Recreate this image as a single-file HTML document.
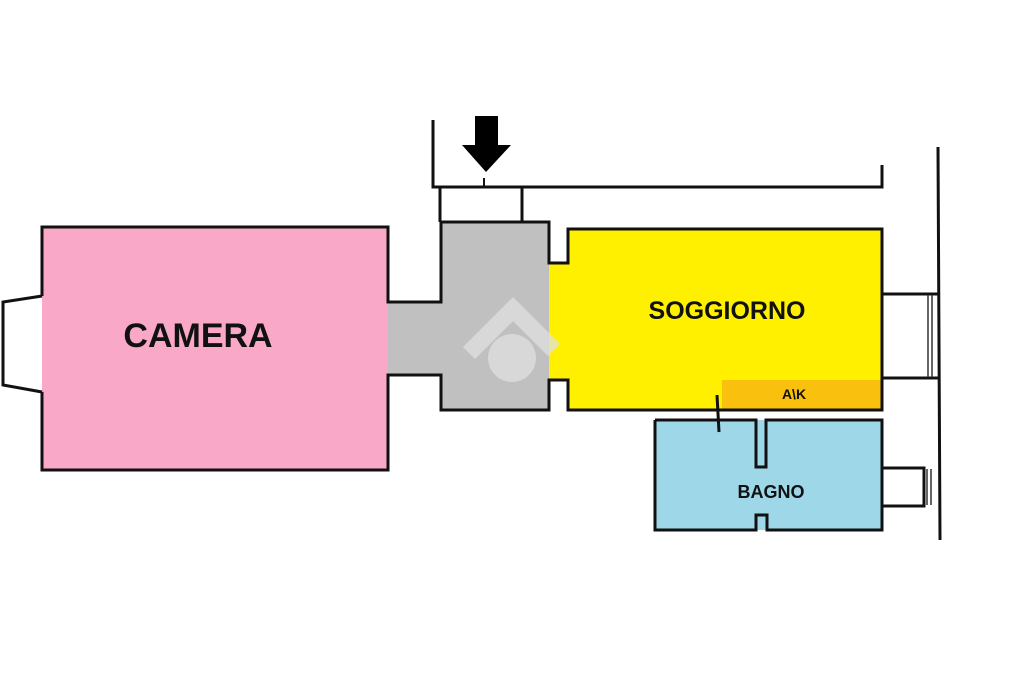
<!DOCTYPE html>
<html><head><meta charset="utf-8"><style>
html,body{margin:0;padding:0;background:#fff;}
svg{display:block;}
text{font-family:"Liberation Sans",sans-serif;font-weight:bold;fill:#111;}
</style></head><body>
<svg width="1024" height="682" viewBox="0 0 1024 682" xmlns="http://www.w3.org/2000/svg">
<!-- fills -->
<rect x="42" y="227" width="346" height="243" fill="#f9a8c8"/>
<rect x="441" y="222" width="108" height="188" fill="#c0c0c0"/>
<rect x="388" y="302" width="55" height="73" fill="#c0c0c0"/>
<polygon points="549,263 568,263 568,229 882,229 882,380 722,380 722,410 568,410 568,380 549,380" fill="#fff000"/>
<rect x="722" y="380" width="161" height="30" fill="#fac00e"/>
<rect x="656" y="420" width="226" height="110" fill="#9dd7e8"/>
<!-- watermark -->
<g fill="#e0e0e0" opacity="0.75">
<polygon points="463,347 513,297 560,344 548,356 513,321 475,359"/>
<circle cx="512" cy="358" r="24"/>
</g>
<g fill="none" stroke="#111" stroke-width="3">
<!-- camera -->
<polyline points="42,296 42,227 388,227 388,302 441,302 441,222 549,222 549,263 568,263 568,229 882,229 882,410 722,410"/>
<polyline points="42,296 3,302 3,385 42,392"/>
<polyline points="42,392 42,470 388,470 388,375 441,375 441,410 549,410 549,380 568,380 568,410 700,410"/>
<line x1="700" y1="410" x2="722" y2="410"/>
<!-- top corridor -->
<polyline points="433,120 433,187 882,187 882,165"/>
<line x1="440" y1="187" x2="440" y2="222"/>
<line x1="522" y1="187" x2="522" y2="222"/>
<!-- right -->
<line x1="938" y1="147" x2="940" y2="540"/>
<line x1="882" y1="294" x2="938" y2="294"/>
<line x1="882" y1="378" x2="938" y2="378"/>
<!-- bagno -->
<polyline points="655,420 655,530 756,530 756,515 767,515 767,530 882,530 882,420 766,420 766,467 756,467 756,420 655,420"/>
<polyline points="882,468 924,468 924,506 882,506"/>
<line x1="717" y1="395" x2="719" y2="432"/>
</g>
<g stroke="#333" stroke-width="1.5">
<line x1="928" y1="295" x2="928" y2="377"/><line x1="932" y1="295" x2="932" y2="377"/>
<line x1="927" y1="469" x2="927" y2="505"/><line x1="931" y1="469" x2="931" y2="505"/>
</g>
<!-- arrow -->
<rect x="475" y="116" width="23" height="30" fill="#000"/>
<polygon points="462,145 511,145 486,172" fill="#000"/>
<line x1="484" y1="178" x2="484" y2="187" stroke="#111" stroke-width="2"/>
<text x="198" y="347" font-size="34" text-anchor="middle">CAMERA</text>
<text x="727" y="319" font-size="25" text-anchor="middle">SOGGIORNO</text>
<text x="794" y="399" font-size="14" text-anchor="middle">A\K</text>
<text x="771" y="498" font-size="18" text-anchor="middle">BAGNO</text>
</svg>
</body></html>
